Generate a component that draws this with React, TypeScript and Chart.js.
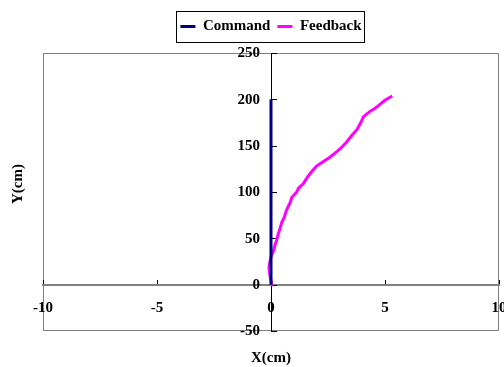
import React, { useEffect, useRef } from 'react';
import { Chart, registerables } from 'chart.js';

Chart.register(...registerables);

// Path data (cm)
const commandX = [0, 0];
const commandY = [0, 200];

const feedbackX = [
  0, 0.02, -0.04, -0.09, -0.07, 0, 0.1, 0.18, 0.25, 0.32, 0.4, 0.47, 0.57, 0.69, 0.83, 0.91,
  1.13, 1.2, 1.42, 1.57, 1.75, 2.0, 2.3, 2.55, 2.81, 3.05, 3.32, 3.54, 3.76, 3.9, 4.0, 4.05,
  4.34, 4.55, 4.78, 5.0, 5.2, 5.32,
];
const feedbackY = [
  0, 2, 9, 18, 22, 30, 36, 43, 48, 55, 61, 67, 72, 81, 88, 94,
  100, 104, 109, 115, 121, 128, 133, 137, 142, 147, 154, 161, 167, 173, 178, 181,
  187, 190, 194.5, 199, 202, 203.5,
];

const seriesNames = ['Command', 'Feedback'];
const seriesColors = ['#000080', '#FF00FF'];
const xTicks = [-10, -5, 0, 5, 10];
const yTicks = [-50, 0, 50, 100, 150, 200, 250];
const xTitle = 'X(cm)';
const yTitle = 'Y(cm)';

const FONT_FAMILY = '"Liberation Serif", "Times New Roman", serif';
const FONT_SIZE = 15;
const boldFont = { family: FONT_FAMILY, size: FONT_SIZE, weight: 'bold' as const };
const cssFont = `bold ${FONT_SIZE}px ${FONT_FAMILY}`;

// Extra room between the legend and the plot frame
const legendSpacing = {
  id: 'legendSpacing',
  afterInit(chart: any) {
    const lg = chart.legend;
    if (!lg || lg.__spaced) return;
    const fit = lg.fit.bind(lg);
    lg.fit = () => {
      fit();
      lg.height += 9;
    };
    lg.__spaced = true;
  },
};

// Plot frame, axis tick marks, y tick labels, axis titles and legend box
const decorations = {
  id: 'decorations',
  beforeDraw(chart: any) {
    const { ctx, chartArea: a, width, height } = chart;
    ctx.save();
    ctx.fillStyle = '#ffffff';
    ctx.fillRect(0, 0, width, height);
    ctx.strokeStyle = '#808080';
    ctx.lineWidth = 1;
    ctx.strokeRect(
      Math.round(a.left) + 0.5,
      Math.round(a.top) + 0.5,
      Math.round(a.right - a.left) - 1,
      Math.round(a.bottom - a.top) - 1
    );
    ctx.restore();
  },
  beforeDatasetsDraw(chart: any) {
    const { ctx, scales } = chart;
    const xs = scales.x;
    const ys = scales.y;
    const x0 = Math.round(xs.getPixelForValue(0));
    const y0 = Math.round(ys.getPixelForValue(0));
    ctx.save();
    ctx.strokeStyle = '#000000';
    ctx.lineWidth = 1;
    ctx.beginPath();
    xs.ticks.forEach((t: any) => {
      if (t.value === 0) return;
      const px = Math.round(xs.getPixelForValue(t.value)) + 0.5;
      ctx.moveTo(px, y0 - 1);
      ctx.lineTo(px, y0 - 5);
    });
    ys.ticks.forEach((t: any) => {
      const py = Math.round(ys.getPixelForValue(t.value)) + 0.5;
      ctx.moveTo(x0, py);
      ctx.lineTo(x0 + 6, py);
    });
    ctx.stroke();

    // y tick labels, set off to the left of the axis line
    ctx.fillStyle = '#000000';
    ctx.font = cssFont;
    ctx.textAlign = 'right';
    ctx.textBaseline = 'middle';
    ys.ticks.forEach((t: any) => {
      ctx.fillText(String(t.value), x0 - 11, ys.getPixelForValue(t.value) + 0.5);
    });
    ctx.restore();
  },
  afterDraw(chart: any) {
    const { ctx, chartArea: a } = chart;
    ctx.save();
    ctx.fillStyle = '#000000';
    ctx.font = cssFont;
    ctx.textAlign = 'center';
    ctx.textBaseline = 'middle';
    ctx.fillText(xTitle, (a.left + a.right) / 2, a.bottom + 27);
    ctx.translate(18, (a.top + a.bottom) / 2 - 8);
    ctx.rotate(-Math.PI / 2);
    ctx.fillText(yTitle, 0, 0);
    ctx.restore();

    const boxes = chart.legend?.legendHitBoxes || [];
    if (boxes.length) {
      const left = Math.min(...boxes.map((b: any) => b.left)) - 4;
      const right = Math.max(...boxes.map((b: any) => b.left + b.width)) + 3;
      const top = boxes[0].top - 8;
      const bottom = boxes[0].top + boxes[0].height + 8;
      ctx.save();
      ctx.strokeStyle = '#000000';
      ctx.lineWidth = 1;
      ctx.strokeRect(Math.round(left) + 0.5, Math.round(top) + 0.5, Math.round(right - left), Math.round(bottom - top));
      ctx.restore();
    }
  },
};

export default function App() {
  const canvasRef = useRef<HTMLCanvasElement | null>(null);

  useEffect(() => {
    const canvas = canvasRef.current;
    if (!canvas) return;

    const chart = new Chart(canvas, {
      type: 'scatter',
      data: {
        datasets: [
          {
            label: seriesNames[0],
            data: commandX.map((x, i) => ({ x, y: commandY[i] })),
            showLine: true,
            borderColor: seriesColors[0],
            backgroundColor: seriesColors[0],
            borderWidth: 3,
            pointRadius: 0,
          },
          {
            label: seriesNames[1],
            data: feedbackX.map((x, i) => ({ x, y: feedbackY[i] })),
            showLine: true,
            borderColor: seriesColors[1],
            backgroundColor: seriesColors[1],
            borderWidth: 3,
            pointRadius: 0,
          },
        ],
      },
      options: {
        responsive: false,
        animation: false,
        devicePixelRatio: 1,
        events: [],
        layout: { padding: { left: 43, right: 5, top: 12, bottom: 36 } },
        plugins: {
          tooltip: { enabled: false },
          legend: {
            display: true,
            position: 'top',
            labels: {
              usePointStyle: true,
              pointStyle: 'line',
              pointStyleWidth: 15,
              padding: 7,
              color: '#000000',
              font: boldFont,
            },
          },
        },
        scales: {
          x: {
            type: 'linear',
            position: { y: 0 } as any,
            min: -10,
            max: 10,
            afterBuildTicks: (s: any) => {
              s.ticks = xTicks.map((v) => ({ value: v }));
            },
            afterFit: (s: any) => {
              s.height = 0;
              s.paddingLeft = 0;
              s.paddingRight = 0;
            },
            grid: { display: false, drawTicks: false },
            border: { display: true, color: '#808080', width: 2 },
            ticks: {
              color: '#000000',
              font: boldFont,
              padding: 14,
              autoSkip: false,
              maxRotation: 0,
            },
          },
          y: {
            type: 'linear',
            position: { x: 0 } as any,
            min: -50,
            max: 250,
            afterBuildTicks: (s: any) => {
              s.ticks = yTicks.map((v) => ({ value: v }));
            },
            afterFit: (s: any) => {
              s.width = 0;
              s.paddingTop = 0;
              s.paddingBottom = 0;
            },
            grid: { display: false, drawTicks: false },
            border: { display: true, color: '#000000', width: 1 },
            ticks: { display: false },
          },
        },
      },
      plugins: [legendSpacing, decorations],
    });

    return () => chart.destroy();
  }, []);

  return (
    <div style={{ position: 'absolute', left: 0, top: 0, width: 504, height: 367, background: '#ffffff' }}>
      <canvas ref={canvasRef} width={504} height={367} />
    </div>
  );
}
